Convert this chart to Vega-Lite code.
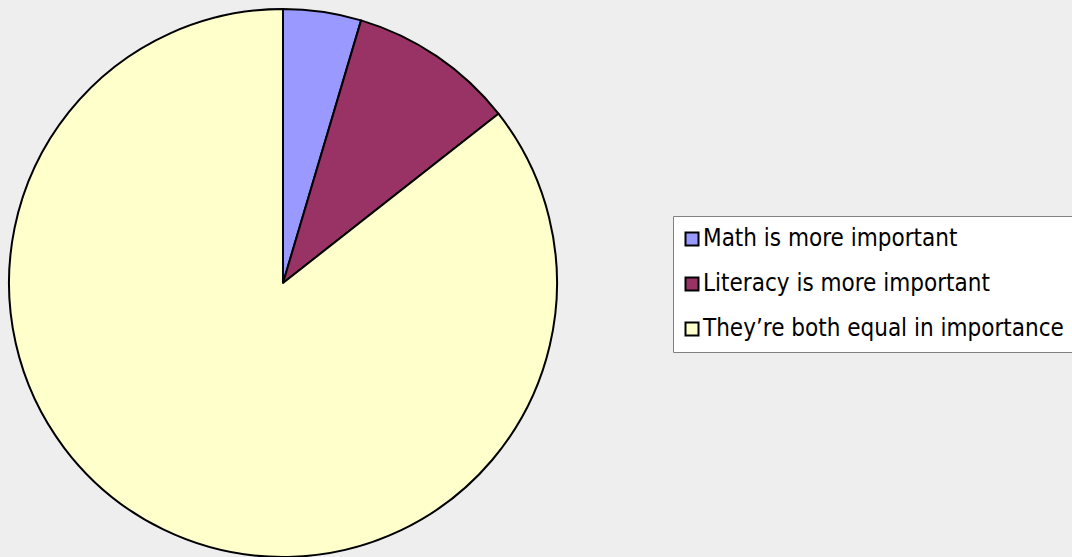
{
  "$schema": "https://vega.github.io/schema/vega-lite/v6.json",
  "width": 548,
  "height": 548,
  "autosize": "none",
  "padding": {"left": 9, "top": 9, "right": 515, "bottom": 0},
  "background": "#EEEEEE",
  "view": {"stroke": null},
  "data": {
    "values": [
      {"answer": "Math is more important", "share": 4.6, "order": 1},
      {"answer": "Literacy is more important", "share": 9.8, "order": 2},
      {"answer": "They’re both equal in importance", "share": 85.6, "order": 3}
    ]
  },
  "mark": {"type": "arc", "stroke": "#000000", "strokeWidth": 2, "strokeJoin": "round"},
  "encoding": {
    "theta": {"field": "share", "type": "quantitative", "stack": true},
    "order": {"field": "order", "type": "quantitative"},
    "color": {
      "field": "answer",
      "type": "nominal",
      "sort": ["Math is more important", "Literacy is more important", "They’re both equal in importance"],
      "scale": {
        "domain": ["Math is more important", "Literacy is more important", "They’re both equal in importance"],
        "range": ["#9999FF", "#993366", "#FFFFCC"]
      },
      "legend": {
        "title": null,
        "orient": "none",
        "legendX": 664,
        "legendY": 207,
        "fillColor": "#FFFFFF",
        "strokeColor": "#808080",
        "padding": 11,
        "symbolType": "square",
        "symbolSize": 169,
        "symbolStrokeColor": "#000000",
        "symbolStrokeWidth": 2,
        "symbolOpacity": 1,
        "symbolOffset": -4,
        "labelFont": "DejaVu Sans Condensed",
        "labelFontSize": 24,
        "labelColor": "#000000",
        "labelOffset": -1,
        "labelLimit": 600,
        "rowPadding": 21
      }
    }
  }
}
